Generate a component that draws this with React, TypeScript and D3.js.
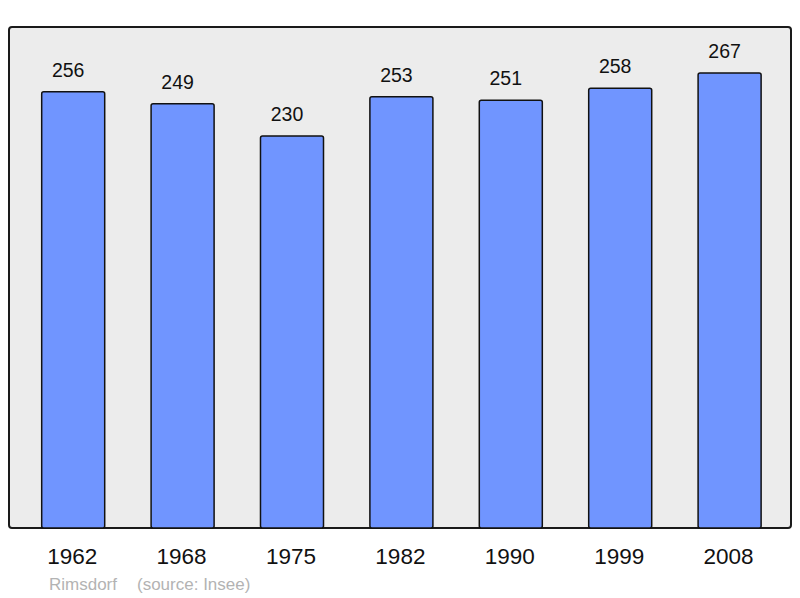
import React from 'react';
import * as d3 from 'd3';

const years = ['1962', '1968', '1975', '1982', '1990', '1999', '2008'];
const population = [256, 249, 230, 253, 251, 258, 267];
const placeName = 'Rimsdorf';
const sourceNote = '(source: Insee)';

const W = 800;
const H = 598;
const frame = { left: 9, top: 27, right: 791, bottom: 528 };

export default function App() {
  // bars sit a little right of the frame's centre
  const x = d3
    .scaleBand()
    .domain(years)
    .range([frame.left + 1.4, frame.right + 1.4])
    .paddingInner(0.424)
    .paddingOuter(0.286);

  // bottom of the frame is zero, top is about 294
  const y = d3.scaleLinear().domain([0, 294]).range([frame.bottom, frame.top]);

  const font = 'Liberation Sans, Arial, sans-serif';

  return (
    <svg
      width={W}
      height={H}
      style={{ position: 'absolute', left: 0, top: 0 }}
      fontFamily={font}
    >
      <rect x={0} y={0} width={W} height={H} fill="#ffffff" />
      <rect
        x={frame.left}
        y={frame.top}
        width={frame.right - frame.left}
        height={frame.bottom - frame.top}
        rx={3}
        fill="#ececec"
        stroke="#1a1a1a"
        strokeWidth={2}
      />
      {years.map((yr, i) => {
        const bx = x(yr) as number;
        const cx = bx + x.bandwidth() / 2;
        const v = population[i];
        return (
          <g key={yr}>
            <rect
              x={bx}
              y={y(v)}
              width={x.bandwidth()}
              height={frame.bottom - y(v)}
              rx={2}
              fill="#7095ff"
              stroke="#111111"
              strokeWidth={1.5}
            />
            <text
              x={cx - 5}
              y={y(v) - 15}
              textAnchor="middle"
              fontSize={19.5}
              fill="#111111"
            >
              {v}
            </text>
            <text
              x={cx - 1}
              y={564}
              textAnchor="middle"
              fontSize={22.5}
              fill="#111111"
            >
              {yr}
            </text>
          </g>
        );
      })}
      <text x={49} y={590} fontSize={17} fill="#b3b3b3">
        {placeName}
      </text>
      <text x={137} y={590} fontSize={17} fill="#b3b3b3">
        {sourceNote}
      </text>
    </svg>
  );
}
